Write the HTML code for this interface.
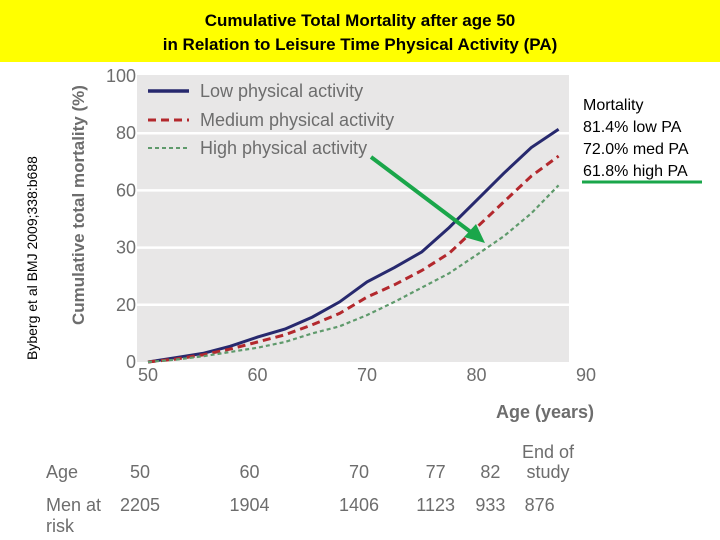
<!DOCTYPE html>
<html><head><meta charset="utf-8"><style>
html,body{margin:0;padding:0;background:#fff;}
svg{display:block;font-family:"Liberation Sans",sans-serif;}
</style></head><body>
<svg id="c" width="720" height="540" viewBox="0 0 720 540">
<rect x="0" y="0" width="720" height="62" fill="#ffff00"/>
<text x="360" y="26" text-anchor="middle" font-size="17" font-weight="bold">Cumulative Total Mortality after age 50</text>
<text x="360" y="50" text-anchor="middle" font-size="17" font-weight="bold">in Relation to Leisure Time Physical Activity (PA)</text>
<text transform="translate(37,360) rotate(-90)" font-size="14">Byberg et al BMJ 2009;338:b688</text>
<rect x="137" y="75" width="432" height="287" fill="#e8e7e7"/>
<g id="grid"></g>
<g id="yt"></g>
<g id="xt"></g>
<text transform="translate(84,325) rotate(-90)" font-size="17" font-weight="bold" fill="#6d6d6d">Cumulative total mortality (%)</text>
<text x="594" y="418" text-anchor="end" font-size="18" font-weight="bold" fill="#6d6d6d">Age (years)</text>
<g id="series"></g>
<g>
<line x1="148" y1="91" x2="189" y2="91" stroke="#27296e" stroke-width="3.5"/>
<text x="200" y="97" font-size="18" fill="#6d6d6d">Low physical activity</text>
<line x1="148" y1="120" x2="189" y2="120" stroke="#b3282d" stroke-width="3" stroke-dasharray="8,5"/>
<text x="200" y="126" font-size="18" fill="#6d6d6d">Medium physical activity</text>
<line x1="148" y1="148" x2="189" y2="148" stroke="#5f9a6c" stroke-width="2" stroke-dasharray="4,3"/>
<text x="200" y="154" font-size="18" fill="#6d6d6d">High physical activity</text>
</g>
<line x1="371" y1="157" x2="476" y2="236" stroke="#1aa64a" stroke-width="4"/>
<polygon points="485,243 464,237 476,224" fill="#1aa64a"/>
<g font-size="16">
<text x="583" y="110">Mortality</text>
<text x="583" y="132">81.4% low PA</text>
<text x="583" y="154">72.0% med PA</text>
<text x="583" y="176">61.8% high PA</text>
</g>
<line x1="582" y1="182" x2="702" y2="182" stroke="#1aa64a" stroke-width="3"/>
<g font-size="18" fill="#6d6d6d">
<text x="46" y="478">Age</text>
<text x="46" y="511">Men at</text>
<text x="46" y="532">risk</text>
<text x="548" y="458" text-anchor="middle">End of</text>
<text x="548" y="478" text-anchor="middle">study</text>
<g id="rt"></g>
</g>
</svg>
<script>
const ages=[50,52.5,55,57.5,60,62.5,65,67.5,70,72.5,75,77.5,80,82.5,85,87.5];
const lowPA=[0,1.5,3,5.5,8.7,11.5,15.7,21,28,33,38.5,47,56.5,66,75,81.4];
const medPA=[0,1,2.5,4.5,7,9.5,13,17,22.7,27,32,38,47,56,65,72];
const highPA=[0,0.8,2,3.5,5,7,10,12.5,16.4,21,26,31,37.4,44,52,61.8];
const yTickVals=[0,20,40,60,80,100];
const yTickLabels=["0","20","30","60","80","100"];
const xTicks=[50,60,70,80,90];
const riskAges=["50","60","70","77","82"];
const riskAgeX=[50,60,70,77,82];
const riskCounts=["2205","1904","1406","1123","933","876"];
const riskCountX=[50,60,70,77,82,86.5];
const NS="http://www.w3.org/2000/svg";
const X=v=>148+(v-50)*10.95;
const Y=v=>362-v*2.86;
function mk(t,a,p){const e=document.createElementNS(NS,t);for(const k in a)e.setAttribute(k,a[k]);p.appendChild(e);return e;}
const grid=document.getElementById('grid'),yt=document.getElementById('yt'),xt=document.getElementById('xt');
yTickVals.forEach((v,i)=>{
 if(v>0&&v<100){const l=mk('line',{x1:137,x2:569,y1:Y(v),y2:Y(v),stroke:'#fff','stroke-width':2.5},grid);
 
 }
 const t=mk('text',{x:136,y:Y(v)+6,'text-anchor':'end','font-size':18,fill:'#6d6d6d'},yt);t.textContent=yTickLabels[i];
 
 
});
xTicks.forEach(v=>{
 const t=mk('text',{x:X(v),y:381,'text-anchor':'middle','font-size':18,fill:'#6d6d6d'},xt);t.textContent=v;
 
 
});
const ser=document.getElementById('series');
[[lowPA,'#27296e',3,'none','line-low-pa'],[medPA,'#b3282d',3,'8,5','line-medium-pa'],[highPA,'#5f9a6c',2.2,'4,3','line-high-pa']].forEach(s=>{
 const d=ages.map((a,i)=>(i?'L':'M')+X(a).toFixed(1)+','+Y(s[0][i]).toFixed(1)).join(' ');
 const p=mk('path',{d:d,fill:'none',stroke:s[1],'stroke-width':s[2],'stroke-dasharray':s[3]},ser);
 
 
});
const rt=document.getElementById('rt');
riskAges.forEach((a,i)=>{const t=mk('text',{x:X(riskAgeX[i])-8,y:478,'text-anchor':'middle'},rt);t.textContent=a;
 
 });
riskCounts.forEach((c,i)=>{const t=mk('text',{x:X(riskCountX[i])-8,y:511,'text-anchor':'middle'},rt);t.textContent=c;
 
 });
</script>
</body></html>
